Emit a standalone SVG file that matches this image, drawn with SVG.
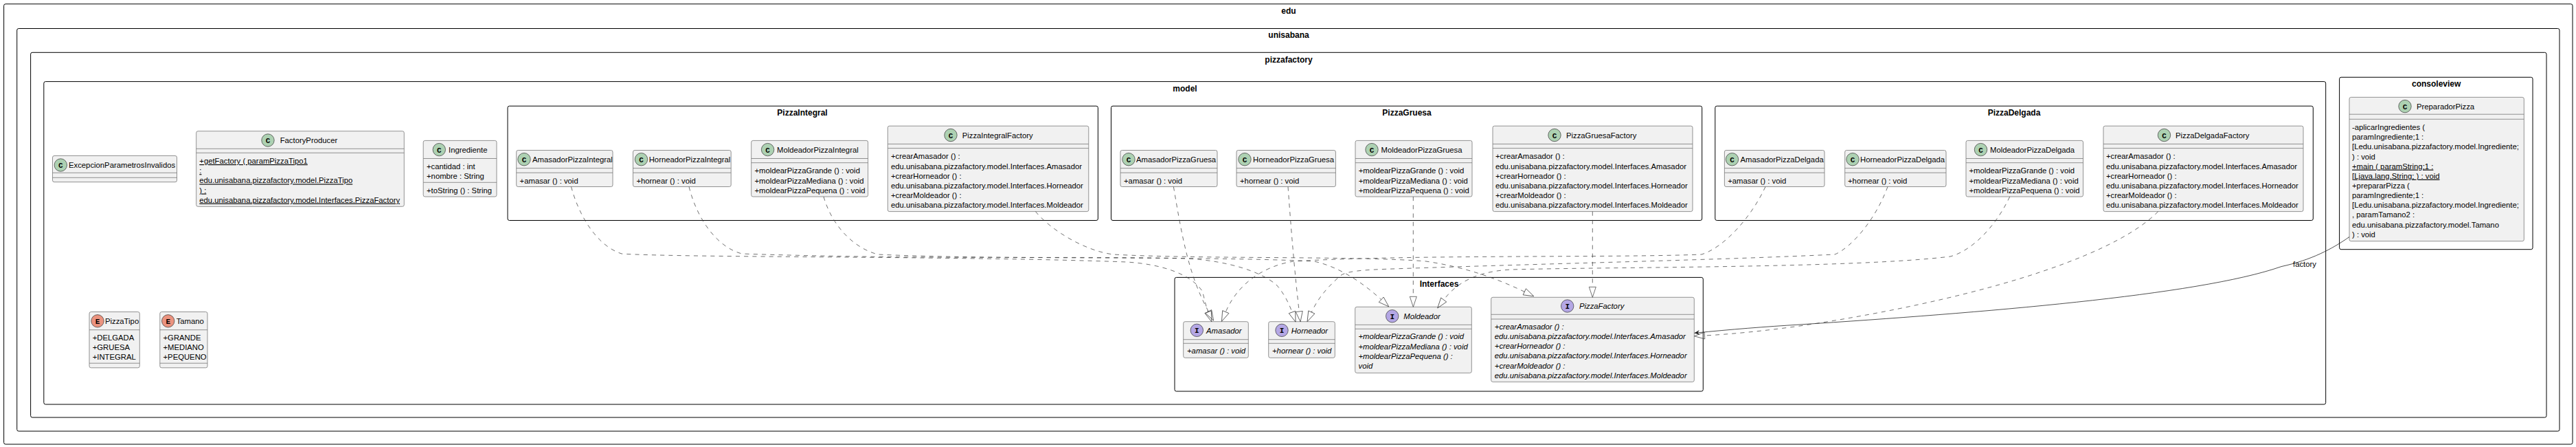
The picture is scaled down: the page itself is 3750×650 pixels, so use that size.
<svg xmlns="http://www.w3.org/2000/svg" width="3750" height="650" viewBox="0 0 3750 650">
<style>
text{font-family:"Liberation Sans",Arial,sans-serif;font-size:11.3px;fill:#000}
.pkg{fill:none;stroke:#000;stroke-width:1}
.pt{font-weight:bold;text-anchor:middle;font-size:12px}
.box{fill:#F1F1F1;stroke:#777;stroke-width:.8}
.sep{stroke:#777;stroke-width:.8}
.c{stroke:#333;stroke-width:.7}
.cc{fill:#ADD1B2}.ce{fill:#EB937F}.ci{fill:#B4A7E5}
.g{font-family:"Liberation Mono",monospace;font-weight:bold;font-size:11px;text-anchor:middle}
.u{text-decoration:underline}
.i{font-style:italic}
.dash{fill:none;stroke:#333;stroke-width:.7;stroke-dasharray:6.1 6.1;marker-end:url(#tri)}
.assoc{fill:none;stroke:#222;stroke-width:.8;marker-end:url(#open)}
.lbl{font-size:11.3px}
</style>
<defs>
<marker id="tri" markerUnits="userSpaceOnUse" markerWidth="18" markerHeight="14" refX="1" refY="7" orient="auto"><path d="M1,2 L16,7 L1,12 Z" fill="none" stroke="#333" stroke-width=".7"/></marker>
<marker id="open" markerUnits="userSpaceOnUse" markerWidth="12" markerHeight="10" refX="9" refY="5" orient="auto"><path d="M9,5 L1.5,1.5 L4,5 L1.5,8.5 Z" fill="#222"/></marker>
</defs>

<g id="packages">
<rect class="pkg" x="5.6" y="5.8" width="3739.4" height="640.2" rx="2.5"/><text class="pt" x="1876" y="19.6">edu</text>
<rect class="pkg" x="24.7" y="41.5" width="3701.3" height="585.5" rx="2.5"/><text class="pt" x="1876" y="55.3">unisabana</text>
<rect class="pkg" x="44.6" y="76.3" width="3662.4" height="530.7" rx="2.5"/><text class="pt" x="1876" y="90.9">pizzafactory</text>
<rect class="pkg" x="63.8" y="118.6" width="3321.9" height="469.4" rx="2.5"/><text class="pt" x="1725" y="132.8">model</text>
<rect class="pkg" x="3405.6" y="112.3" width="281.4" height="250.4" rx="2.5"/><text class="pt" x="3546.7" y="126.3">consoleview</text>
<rect class="pkg" x="739" y="154.2" width="859.4" height="166.3" rx="2.5"/><text class="pt" x="1168" y="168.3">PizzaIntegral</text>
<rect class="pkg" x="1617.5" y="154.2" width="860.2" height="166.3" rx="2.5"/><text class="pt" x="2048" y="168.3">PizzaGruesa</text>
<rect class="pkg" x="2496.8" y="154.2" width="870.5" height="166.3" rx="2.5"/><text class="pt" x="2932" y="168.3">PizzaDelgada</text>
<rect class="pkg" x="1710" y="403.4" width="769.3" height="165.6" rx="2.5"/><text class="pt" x="2095" y="417.3">Interfaces</text>
</g>

<g id="ExcepcionParametrosInvalidos">
<rect class="box" x="76.5" y="226.5" width="181" height="38.2" rx="2.5"/>
<line class="sep" x1="76.5" y1="251.3" x2="257.5" y2="251.3"/><line class="sep" x1="76.5" y1="258.3" x2="257.5" y2="258.3"/>
<circle class="c cc" cx="88.3" cy="240" r="9.2"/><text class="g" x="88.3" y="244">C</text>
<text x="100" y="244.3">ExcepcionParametrosInvalidos</text>
</g>
<g id="FactoryProducer">
<rect class="box" x="285.7" y="190.7" width="302.6" height="109.6" rx="2.5"/>
<line class="sep" x1="285.7" y1="216.3" x2="588.3" y2="216.3"/><line class="sep" x1="285.7" y1="222.3" x2="588.3" y2="222.3"/>
<circle class="c cc" cx="390" cy="204" r="9.2"/><text class="g" x="390" y="208">C</text>
<text x="407.7" y="208.3">FactoryProducer</text>
<text class="u" x="290.3" y="238">+getFactory ( paramPizzaTipo1</text>
<text class="u" x="290.3" y="252.2">:</text>
<text class="u" x="290.3" y="266.4">edu.unisabana.pizzafactory.model.PizzaTipo</text>
<text class="u" x="290.3" y="280.5">) :</text>
<text class="u" x="290.3" y="294.7">edu.unisabana.pizzafactory.model.Interfaces.PizzaFactory</text>
</g>
<g id="Ingrediente">
<rect class="box" x="616.2" y="204.4" width="106.8" height="81.6" rx="2.5"/>
<line class="sep" x1="616.2" y1="230.5" x2="723" y2="230.5"/><line class="sep" x1="616.2" y1="265.3" x2="723" y2="265.3"/>
<circle class="c cc" cx="639.3" cy="217.6" r="9.2"/><text class="g" x="639.3" y="221.6">C</text>
<text x="653" y="222">Ingrediente</text>
<text x="621" y="246">+cantidad : int</text><text x="621" y="260.2">+nombre : String</text><text x="621" y="281">+toString () : String</text>
</g>
<g id="PizzaTipo">
<rect class="box" x="130" y="453.5" width="73.3" height="81.3" rx="2.5"/>
<line class="sep" x1="130" y1="479.7" x2="203.3" y2="479.7"/><line class="sep" x1="130" y1="528.2" x2="203.3" y2="528.2"/>
<circle class="c ce" cx="142" cy="466.8" r="9.2"/><text class="g" x="142" y="470.8">E</text>
<text x="153" y="471.1">PizzaTipo</text>
<text x="134.7" y="494.8">+DELGADA</text><text x="134.7" y="509">+GRUESA</text><text x="134.7" y="523.1">+INTEGRAL</text>
</g>
<g id="Tamano">
<rect class="box" x="232.8" y="453.5" width="69.2" height="81.3" rx="2.5"/>
<line class="sep" x1="232.8" y1="479.7" x2="302" y2="479.7"/><line class="sep" x1="232.8" y1="528.2" x2="302" y2="528.2"/>
<circle class="c ce" cx="244.7" cy="466.8" r="9.2"/><text class="g" x="244.7" y="470.8">E</text>
<text x="256.7" y="471.1">Tamano</text>
<text x="237.5" y="494.8">+GRANDE</text><text x="237.5" y="509">+MEDIANO</text><text x="237.5" y="523.1">+PEQUENO</text>
</g>

<g id="AmasadorPizzaIntegral">
<rect class="box" x="751.7" y="218.5" width="140.3" height="53" rx="2.5"/>
<line class="sep" x1="751.7" y1="244.6" x2="892" y2="244.6"/><line class="sep" x1="751.7" y1="251.2" x2="892" y2="251.2"/>
<circle class="c cc" cx="763" cy="231.7" r="9.2"/><text class="g" x="763" y="235.7">C</text>
<text x="775" y="236">AmasadorPizzaIntegral</text><text x="756.6" y="266.5">+amasar () : void</text>
</g>
<g id="HorneadorPizzaIntegral">
<rect class="box" x="921.5" y="218.5" width="142.7" height="53" rx="2.5"/>
<line class="sep" x1="921.5" y1="244.6" x2="1064.2" y2="244.6"/><line class="sep" x1="921.5" y1="251.2" x2="1064.2" y2="251.2"/>
<circle class="c cc" cx="933.5" cy="231.7" r="9.2"/><text class="g" x="933.5" y="235.7">C</text>
<text x="944.7" y="236">HorneadorPizzaIntegral</text><text x="926.4" y="266.5">+hornear () : void</text>
</g>
<g id="MoldeadorPizzaIntegral">
<rect class="box" x="1093.7" y="204.4" width="169.9" height="81.6" rx="2.5"/>
<line class="sep" x1="1093.7" y1="230.5" x2="1263.6" y2="230.5"/><line class="sep" x1="1093.7" y1="236.7" x2="1263.6" y2="236.7"/>
<circle class="c cc" cx="1117.6" cy="217.6" r="9.2"/><text class="g" x="1117.6" y="221.6">C</text>
<text x="1131" y="222">MoldeadorPizzaIntegral</text>
<text x="1098.4" y="252.4">+moldearPizzaGrande () : void</text><text x="1098.4" y="266.6">+moldearPizzaMediana () : void</text><text x="1098.4" y="280.8">+moldearPizzaPequena () : void</text>
</g>
<g id="PizzaIntegralFactory">
<rect class="box" x="1292.3" y="183.2" width="292.5" height="124.4" rx="2.5"/>
<line class="sep" x1="1292.3" y1="209.4" x2="1584.8" y2="209.4"/><line class="sep" x1="1292.3" y1="215.6" x2="1584.8" y2="215.6"/>
<circle class="c cc" cx="1384" cy="196.5" r="9.2"/><text class="g" x="1384" y="200.5">C</text>
<text x="1400.7" y="200.8">PizzaIntegralFactory</text>
<text x="1297" y="231.4">+crearAmasador () :</text><text x="1297" y="245.6">edu.unisabana.pizzafactory.model.Interfaces.Amasador</text><text x="1297" y="259.7">+crearHorneador () :</text><text x="1297" y="273.9">edu.unisabana.pizzafactory.model.Interfaces.Horneador</text><text x="1297" y="288">+crearMoldeador () :</text><text x="1297" y="302.2">edu.unisabana.pizzafactory.model.Interfaces.Moldeador</text>
</g>

<g id="AmasadorPizzaGruesa">
<rect class="box" x="1631" y="218.5" width="141" height="53" rx="2.5"/>
<line class="sep" x1="1631" y1="244.6" x2="1772" y2="244.6"/><line class="sep" x1="1631" y1="251.2" x2="1772" y2="251.2"/>
<circle class="c cc" cx="1643" cy="231.7" r="9.2"/><text class="g" x="1643" y="235.7">C</text>
<text x="1654" y="236">AmasadorPizzaGruesa</text><text x="1636" y="266.5">+amasar () : void</text>
</g>
<g id="HorneadorPizzaGruesa">
<rect class="box" x="1800" y="218.5" width="144.4" height="53" rx="2.5"/>
<line class="sep" x1="1800" y1="244.6" x2="1944.4" y2="244.6"/><line class="sep" x1="1800" y1="251.2" x2="1944.4" y2="251.2"/>
<circle class="c cc" cx="1812" cy="231.7" r="9.2"/><text class="g" x="1812" y="235.7">C</text>
<text x="1824" y="236">HorneadorPizzaGruesa</text><text x="1805" y="266.5">+hornear () : void</text>
</g>
<g id="MoldeadorPizzaGruesa">
<rect class="box" x="1973" y="204.4" width="170" height="81.6" rx="2.5"/>
<line class="sep" x1="1973" y1="230.5" x2="2143" y2="230.5"/><line class="sep" x1="1973" y1="236.7" x2="2143" y2="236.7"/>
<circle class="c cc" cx="1997" cy="217.6" r="9.2"/><text class="g" x="1997" y="221.6">C</text>
<text x="2010.5" y="222">MoldeadorPizzaGruesa</text>
<text x="1977.7" y="252.4">+moldearPizzaGrande () : void</text><text x="1977.7" y="266.6">+moldearPizzaMediana () : void</text><text x="1977.7" y="280.8">+moldearPizzaPequena () : void</text>
</g>
<g id="PizzaGruesaFactory">
<rect class="box" x="2173" y="183.2" width="291" height="124.4" rx="2.5"/>
<line class="sep" x1="2173" y1="209.4" x2="2464" y2="209.4"/><line class="sep" x1="2173" y1="215.6" x2="2464" y2="215.6"/>
<circle class="c cc" cx="2263" cy="196.5" r="9.2"/><text class="g" x="2263" y="200.5">C</text>
<text x="2280" y="200.8">PizzaGruesaFactory</text>
<text x="2177" y="231.4">+crearAmasador () :</text><text x="2177" y="245.6">edu.unisabana.pizzafactory.model.Interfaces.Amasador</text><text x="2177" y="259.7">+crearHorneador () :</text><text x="2177" y="273.9">edu.unisabana.pizzafactory.model.Interfaces.Horneador</text><text x="2177" y="288">+crearMoldeador () :</text><text x="2177" y="302.2">edu.unisabana.pizzafactory.model.Interfaces.Moldeador</text>
</g>

<g id="AmasadorPizzaDelgada">
<rect class="box" x="2510.4" y="218.5" width="145.6" height="53" rx="2.5"/>
<line class="sep" x1="2510.4" y1="244.6" x2="2656" y2="244.6"/><line class="sep" x1="2510.4" y1="251.2" x2="2656" y2="251.2"/>
<circle class="c cc" cx="2521.5" cy="231.7" r="9.2"/><text class="g" x="2521.5" y="235.7">C</text>
<text x="2533.5" y="236">AmasadorPizzaDelgada</text><text x="2515.2" y="266.5">+amasar () : void</text>
</g>
<g id="HorneadorPizzaDelgada">
<rect class="box" x="2685.7" y="218.5" width="147.3" height="53" rx="2.5"/>
<line class="sep" x1="2685.7" y1="244.6" x2="2833" y2="244.6"/><line class="sep" x1="2685.7" y1="251.2" x2="2833" y2="251.2"/>
<circle class="c cc" cx="2697" cy="231.7" r="9.2"/><text class="g" x="2697" y="235.7">C</text>
<text x="2708" y="236">HorneadorPizzaDelgada</text><text x="2690" y="266.5">+hornear () : void</text>
</g>
<g id="MoldeadorPizzaDelgada">
<rect class="box" x="2862" y="204.4" width="170.5" height="81.6" rx="2.5"/>
<line class="sep" x1="2862" y1="230.5" x2="3032.5" y2="230.5"/><line class="sep" x1="2862" y1="236.7" x2="3032.5" y2="236.7"/>
<circle class="c cc" cx="2883.5" cy="217.6" r="9.2"/><text class="g" x="2883.5" y="221.6">C</text>
<text x="2897" y="222">MoldeadorPizzaDelgada</text>
<text x="2866.5" y="252.4">+moldearPizzaGrande () : void</text><text x="2866.5" y="266.6">+moldearPizzaMediana () : void</text><text x="2866.5" y="280.8">+moldearPizzaPequena () : void</text>
</g>
<g id="PizzaDelgadaFactory">
<rect class="box" x="3062" y="183.2" width="291" height="124.4" rx="2.5"/>
<line class="sep" x1="3062" y1="209.4" x2="3353" y2="209.4"/><line class="sep" x1="3062" y1="215.6" x2="3353" y2="215.6"/>
<circle class="c cc" cx="3150.5" cy="196.5" r="9.2"/><text class="g" x="3150.5" y="200.5">C</text>
<text x="3167" y="200.8">PizzaDelgadaFactory</text>
<text x="3066" y="231.4">+crearAmasador () :</text><text x="3066" y="245.6">edu.unisabana.pizzafactory.model.Interfaces.Amasador</text><text x="3066" y="259.7">+crearHorneador () :</text><text x="3066" y="273.9">edu.unisabana.pizzafactory.model.Interfaces.Horneador</text><text x="3066" y="288">+crearMoldeador () :</text><text x="3066" y="302.2">edu.unisabana.pizzafactory.model.Interfaces.Moldeador</text>
</g>

<g id="PreparadorPizza">
<rect class="box" x="3420" y="141.4" width="254.3" height="209.3" rx="2.5"/>
<line class="sep" x1="3420" y1="166.2" x2="3674.3" y2="166.2"/><line class="sep" x1="3420" y1="173.3" x2="3674.3" y2="173.3"/>
<circle class="c cc" cx="3501" cy="154.6" r="9.2"/><text class="g" x="3501" y="158.6">C</text>
<text x="3518" y="158.9">PreparadorPizza</text>
<text x="3424" y="189">-aplicarIngredientes (</text>
<text x="3424" y="203.2">paramIngrediente;1 :</text>
<text x="3424" y="217.3">[Ledu.unisabana.pizzafactory.model.Ingrediente;</text>
<text x="3424" y="231.5">) : void</text>
<text class="u" x="3424" y="245.6">+main ( paramString;1 :</text>
<text class="u" x="3424" y="259.8">[Ljava.lang.String; ) : void</text>
<text x="3424" y="274">+prepararPizza (</text>
<text x="3424" y="288.1">paramIngrediente;1 :</text>
<text x="3424" y="302.3">[Ledu.unisabana.pizzafactory.model.Ingrediente;</text>
<text x="3424" y="316.4">, paramTamano2 :</text>
<text x="3424" y="330.6">edu.unisabana.pizzafactory.model.Tamano</text>
<text x="3424" y="344.8">) : void</text>
</g>

<g id="Amasador">
<rect class="box" x="1722.7" y="467.7" width="94.6" height="52.6" rx="2.5"/>
<line class="sep" x1="1722.7" y1="493.7" x2="1817.3" y2="493.7"/><line class="sep" x1="1722.7" y1="499.3" x2="1817.3" y2="499.3"/>
<circle class="c ci" cx="1742.3" cy="480.3" r="9.2"/><text class="g" x="1742.3" y="484.3">I</text>
<text class="i" x="1756" y="485">Amasador</text><text class="i" x="1728" y="514.3">+amasar () : void</text>
</g>
<g id="Horneador">
<rect class="box" x="1846.7" y="467.7" width="96.6" height="52.6" rx="2.5"/>
<line class="sep" x1="1846.7" y1="493.7" x2="1943.3" y2="493.7"/><line class="sep" x1="1846.7" y1="499.3" x2="1943.3" y2="499.3"/>
<circle class="c ci" cx="1866" cy="480.3" r="9.2"/><text class="g" x="1866" y="484.3">I</text>
<text class="i" x="1879.7" y="485">Horneador</text><text class="i" x="1852" y="514.3">+hornear () : void</text>
</g>
<g id="Moldeador">
<rect class="box" x="1972.7" y="446.3" width="169.6" height="96" rx="2.5"/>
<line class="sep" x1="1972.7" y1="472.3" x2="2142.3" y2="472.3"/><line class="sep" x1="1972.7" y1="478.3" x2="2142.3" y2="478.3"/>
<circle class="c ci" cx="2026.7" cy="459.7" r="9.2"/><text class="g" x="2026.7" y="463.7">I</text>
<text class="i" x="2043.3" y="463.9">Moldeador</text>
<text class="i" x="1977.5" y="493.3">+moldearPizzaGrande () : void</text><text class="i" x="1977.5" y="507.5">+moldearPizzaMediana () : void</text><text class="i" x="1977.5" y="521.7">+moldearPizzaPequena () :</text><text class="i" x="1977.5" y="535.8">void</text>
</g>
<g id="PizzaFactory">
<rect class="box" x="2170.7" y="432.3" width="295.6" height="123" rx="2.5"/>
<line class="sep" x1="2170.7" y1="457.3" x2="2466.3" y2="457.3"/><line class="sep" x1="2170.7" y1="464" x2="2466.3" y2="464"/>
<circle class="c ci" cx="2281.7" cy="445" r="9.2"/><text class="g" x="2281.7" y="449">I</text>
<text class="i" x="2299" y="449.3">PizzaFactory</text>
<text class="i" x="2175.8" y="479">+crearAmasador () :</text><text class="i" x="2175.8" y="493.1">edu.unisabana.pizzafactory.model.Interfaces.Amasador</text><text class="i" x="2175.8" y="507.3">+crearHorneador () :</text><text class="i" x="2175.8" y="521.4">edu.unisabana.pizzafactory.model.Interfaces.Horneador</text><text class="i" x="2175.8" y="535.6">+crearMoldeador () :</text><text class="i" x="2175.8" y="549.7">edu.unisabana.pizzafactory.model.Interfaces.Moldeador</text>
</g>

<g id="connectors">
<path class="dash" d="M831.5,271.5 C843,315 870,358 905,369 C1000,375 1400,372 1640,381 C1690,384 1733,398 1750,423 C1752,428 1755,444 1758.6,453.7"/>
<path class="dash" d="M1003,271.5 C1015,320 1045,360 1080,369 C1350,378 1600,372 1730,376 C1790,380 1835,395 1858,414 C1868,425 1876,440 1881,454"/>
<path class="dash" d="M1199,286 C1210,325 1240,360 1278,370 C1450,378 1750,372 1913,380 C1950,388 1985,412 2010.7,435.7"/>
<path class="dash" d="M1507.5,307.6 C1530,335 1580,365 1620.7,370 C1750,377 1980,372 2076,380 C2130,388 2175,403 2219.3,424.3"/>
<path class="dash" d="M1708.4,271.5 C1720,340 1730,400 1759.3,453"/>
<path class="dash" d="M1875,271.5 C1880,340 1885,400 1891.3,453"/>
<path class="dash" d="M2057.3,286 L2057.3,431.3"/>
<path class="dash" d="M2318.3,307.6 L2318.3,417.3"/>
<path class="dash" d="M2570,271.5 C2550,315 2510,360 2477,370 C2350,375 2050,370 1883,380 C1850,385 1805,405 1784.3,453.6"/>
<path class="dash" d="M2748,271.5 C2730,320 2695,360 2671,370 C2500,378 2300,382 2057,390 C2000,392 1960,392 1950,402 C1930,420 1918,435 1909.3,454"/>
<path class="dash" d="M2925.7,286 C2905,330 2870,365 2839,373 C2700,390 2350,388 2200,392 C2160,394 2125,405 2101.7,436"/>
<path class="dash" d="M3141.7,307.6 C3070,380 2850,440 2620,474 C2570,481 2520,486 2481.5,488"/>
<path class="assoc" d="M3420,344.5 C3395,362 3365,378 3321,387.6 C3200,430 2880,455 2620,472 C2570,475 2520,479 2466.6,484.3"/>
<text class="lbl" x="3338" y="388">factory</text>
</g>
</svg>
